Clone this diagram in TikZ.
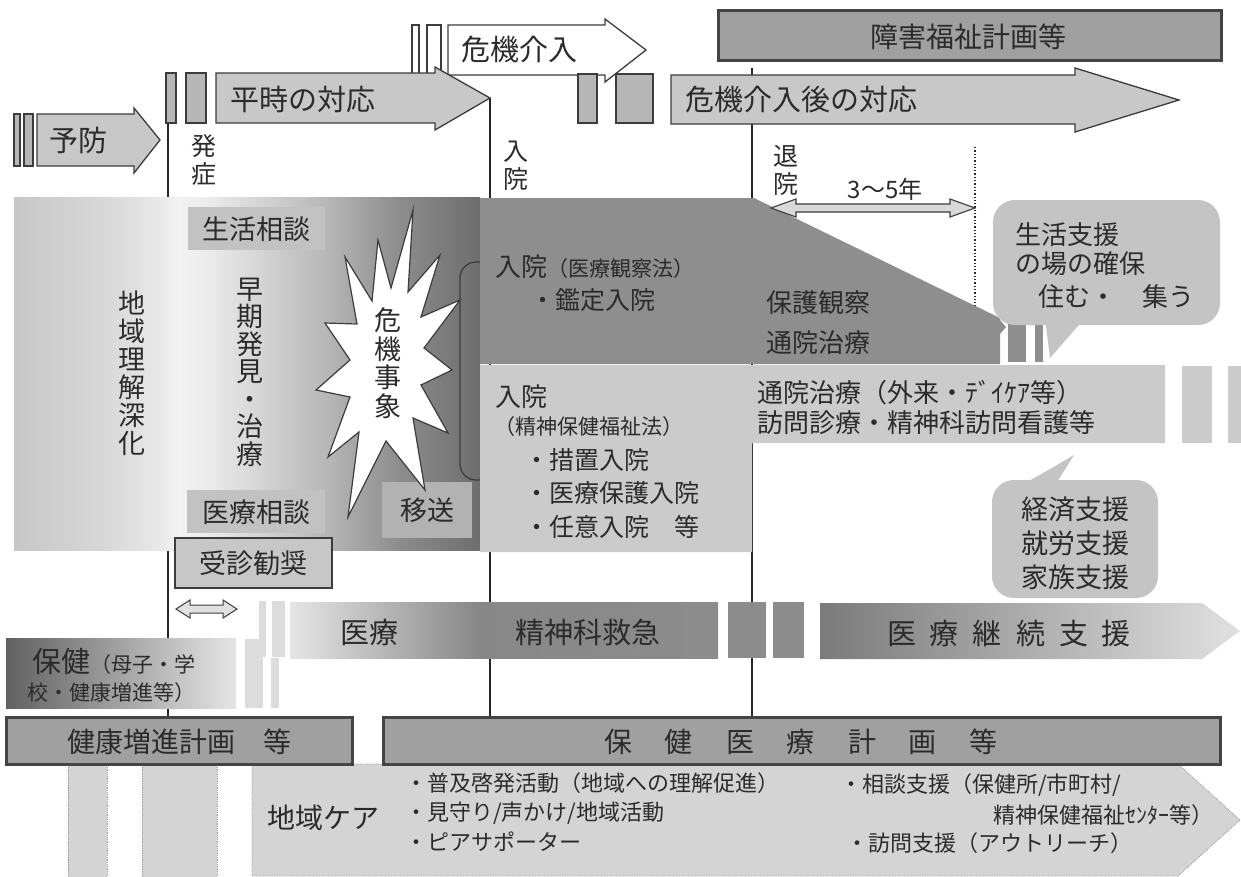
\documentclass[tikz,border=0pt]{standalone}
\usepackage{fontspec}
\setmainfont{Noto Sans CJK JP}
\newcommand\fsz[1]{\fontsize{#1}{#1}\selectfont}
\definecolor{ink}{HTML}{2B2B2B}
\definecolor{edge}{HTML}{3C3C3C}
\definecolor{arrowfill}{HTML}{C8C8C8}
\definecolor{barfill}{HTML}{B6B6B6}
\definecolor{planfill}{HTML}{A0A0A0}
\definecolor{planedge}{HTML}{444444}
\definecolor{darkreg}{HTML}{8E8E8E}
\definecolor{lightreg}{HTML}{CBCBCB}
\definecolor{bubblefill}{HTML}{C4C4C4}
\definecolor{carefill}{HTML}{D4D4D4}
\definecolor{tagfill}{HTML}{C2C2C2}
\definecolor{thinbar}{HTML}{DCDCDC}
\pgfdeclarehorizontalshading{bandshade}{100bp}{rgb(0bp)=(0.78,0.78,0.78); rgb(25bp)=(0.78,0.78,0.78); rgb(34.2bp)=(0.84,0.84,0.84); rgb(39.6bp)=(0.9,0.9,0.9); rgb(42.8bp)=(0.95,0.95,0.95); rgb(46bp)=(0.92,0.92,0.92); rgb(58.4bp)=(0.72,0.72,0.72); rgb(66.4bp)=(0.55,0.55,0.55); rgb(75bp)=(0.43,0.43,0.43); rgb(100bp)=(0.43,0.43,0.43)}
\pgfdeclarehorizontalshading{medshade}{100bp}{rgb(0bp)=(0.9,0.9,0.9); rgb(25bp)=(0.9,0.9,0.9); rgb(47bp)=(0.53,0.53,0.53); rgb(75bp)=(0.55,0.55,0.55); rgb(100bp)=(0.55,0.55,0.55)}
\begin{document}
\begin{tikzpicture}[x=1pt,y=-1pt,
  bigarrow/.style={fill=arrowfill, draw=edge, line width=1.3pt, line join=miter},
  barbox/.style={fill=barfill, draw=edge, line width=1.1pt},
  whitebar/.style={fill=white, draw=edge, line width=1.1pt},
  vline/.style={draw=black!85, line width=1.6pt},
  planbox/.style={fill=planfill, draw=planedge, line width=3pt},
  txt/.style={text=ink, inner sep=0pt},
  vtxt/.style={text=ink, inner sep=0pt, align=center},
  careedge/.style={fill=carefill, draw=black!40, densely dotted, line width=0.8pt}]
\useasboundingbox (0,0) rectangle (1241,876);
\fill[white] (0,0) rectangle (1241,876);

% ---- vertical time lines
\coordinate (onsetT) at (168,123);
\coordinate (onsetB) at (168,717);
\coordinate (admT) at (490,98);
\coordinate (admB) at (490,717);
\coordinate (dischT) at (752,68);
\coordinate (dischB) at (752,717);
\coordinate (yrsT) at (975,147);
\coordinate (yrsB) at (975,320);
\draw[vline] (onsetT) -- (onsetB);
\draw[vline] (admT) -- (admB);
\draw[vline] (dischT) -- (dischB);
\draw[black!85, line width=1.3pt, dotted] (yrsT) -- (yrsB);

% ---- top arrows
\draw[barbox] (14,114) rectangle (20,166);
\draw[barbox] (24,114) rectangle (33,166);
\draw[bigarrow] (37,114) -- (134,114) -- (134,108) -- (160,140) -- (134,173) -- (134,166) -- (37,166) -- cycle;
\node[txt, font=\fsz{29}] (yobo) at (78,140) {予防};

\draw[whitebar] (412,25) rectangle (419,75);
\draw[whitebar] (427,25) rectangle (441,75);
\draw[bigarrow, fill=white] (448,25) -- (605,25) -- (605,19) -- (646,50) -- (605,82) -- (605,75) -- (448,75) -- cycle;
\node[txt, font=\fsz{29}] (kiki) at (519,50) {危機介入};

\draw[barbox] (166,73) rectangle (176,123);
\draw[barbox] (186,73) rectangle (206,123);
\draw[bigarrow] (216,73) -- (435,73) -- (435,67) -- (490,98) -- (435,130) -- (435,123) -- (216,123) -- cycle;
\node[txt, font=\fsz{29}] (heiji) at (303,99) {平時の対応};

\draw[barbox] (578,74) rectangle (597,123);
\draw[barbox] (616,74) rectangle (653,123);
\draw[bigarrow] (671,75) -- (1075,75) -- (1075,68) -- (1179,100) -- (1075,132) -- (1075,124) -- (671,124) -- cycle;
\node[txt, font=\fsz{29}] (kikigo) at (801,100) {危機介入後の対応};

\draw[planbox] (718,10) rectangle (1221,60);
\node[txt, font=\fsz{28}] (shogai) at (968,37) {障害福祉計画等};

\node[vtxt, font={\fontsize{25}{28}\selectfont}] (onset) at (204,160) {発\\症};
\node[vtxt, font={\fontsize{25}{28}\selectfont}] (adm) at (516,166) {入\\院};
\node[vtxt, font={\fontsize{25}{28}\selectfont}] (disch) at (786,170) {退\\院};

% ---- main band
\shade[shading=bandshade] (14,197) rectangle (480,550);
\fill[darkreg] (480,198) -- (754,198) -- (1000,318) -- (1000,364) -- (480,364) -- cycle;
\fill[darkreg] (1000,320) -- (1006,327) -- (1000,334) -- cycle;
\fill[darkreg] (1008,315) rectangle (1026,362);
\fill[darkreg] (1035,315) rectangle (1043,362);
\fill[lightreg] (480,365) -- (1165,365) -- (1165,443) -- (752,443) -- (752,552) -- (480,552) -- cycle;
\fill[lightreg] (1182,366) rectangle (1212,443);
\fill[lightreg] (1228,366) rectangle (1241,443);

\fill[tagfill] (188,207) rectangle (325,250);
\fill[tagfill] (187,490) rectangle (325,533);
\fill[fill=black!30] (382,482) rectangle (472,538);
\node[txt, font=\fsz{27}] (seikatsu) at (256,229) {生活相談};
\node[txt, font=\fsz{27}] (iryosodan) at (256,512) {医療相談};
\node[txt, font=\fsz{27}] (iso) at (427,510) {移送};

\draw[fill=white, draw=edge, line width=1.2pt] (413,210) -- (408,292) -- (440,255) -- (421,317) -- (460,300) -- (424,348) -- (452,370) -- (421,385) -- (448,433) -- (413,418) -- (425,490) -- (386,441) -- (348,517) -- (359,432) -- (328,457) -- (350,397) -- (316,390) -- (350,360) -- (325,323) -- (357,324) -- (345,257) -- (372,301) -- (378,240) -- (391,288) -- cycle;
\node[vtxt, font={\fontsize{27}{28.5}\selectfont}] (kikijisho) at (388,363) {危\\機\\事\\象};
\draw[edge, line width=1.3pt, rounded corners=16pt] (480,262) -- (460,262) -- (460,480) -- (480,480);

\draw[fill=black!22, draw=edge, line width=1.2pt] (175,538) rectangle (332,588);
\node[txt, font=\fsz{27}] (jushin) at (253,563) {受診勧奨};

\node[vtxt, font={\fontsize{27}{28}\selectfont}] (chiiki) at (132,373) {地\\域\\理\\解\\深\\化};
\node[vtxt, font={\fontsize{27}{27.5}\selectfont}] (soki) at (250,372) {早\\期\\発\\見\\・\\治\\療};

\node[txt, anchor=west] (kansatsu) at (495,267) {\fsz{26}入院\fsz{21}（医療観察法）};
\node[txt, anchor=west, font=\fsz{25}] (kantei) at (530,300) {・鑑定入院};
\node[txt, anchor=west, font=\fsz{26}] (hogo) at (766,303) {保護観察};
\node[txt, anchor=west, font=\fsz{26}] (tsuin) at (766,343) {通院治療};
\node[txt, anchor=west, font=\fsz{26}] (nyuin) at (495,397) {入院};
\node[txt, anchor=west, font=\fsz{21}] (seiho) at (494,427) {（精神保健福祉法）};
\node[txt, anchor=west, font=\fsz{25}] (sochi) at (524,460) {・措置入院};
\node[txt, anchor=west, font=\fsz{25}] (iryohogo) at (524,493) {・医療保護入院};
\node[txt, anchor=west, font=\fsz{25}] (nini) at (524,527) {・任意入院　等};
\node[txt, anchor=west, font=\fsz{26}] (gairai) at (757,393) {通院治療（外来・ﾃﾞｲｹｱ等）};
\node[txt, anchor=west, font=\fsz{26}] (homon) at (757,423) {訪問診療・精神科訪問看護等};

% ---- 3-5 years arrow
\draw[fill=black!15, draw=edge, line width=1.1pt] (771,208) -- (796,199) -- (796,204) -- (950,204) -- (950,199) -- (975,208) -- (950,217) -- (950,212) -- (796,212) -- (796,217) -- cycle;
\node[txt, font=\fsz{24}] (years) at (885,189) {3～5年};

% ---- bubbles
\fill[bubblefill, rounded corners=22pt] (993,200) rectangle (1220,325);
\fill[bubblefill] (1045,318) -- (1050,358) -- (1085,318) -- cycle;
\node[txt, anchor=west, font=\fsz{26}] (b1a) at (1015,235) {生活支援};
\node[txt, anchor=west, font=\fsz{26}] (b1b) at (1015,264) {の場の確保};
\node[txt, anchor=west, font=\fsz{26}] (b1c) at (1038,297) {住む・　集う};

\fill[bubblefill, rounded corners=22pt] (992,480) rectangle (1158,598);
\fill[bubblefill] (1012,490) .. controls (1040,475) .. (1074,455) -- (1052,490) -- cycle;
\node[txt, font=\fsz{27}] (b2a) at (1075,509) {経済支援};
\node[txt, font=\fsz{27}] (b2b) at (1075,543) {就労支援};
\node[txt, font=\fsz{27}] (b2c) at (1075,577) {家族支援};

% ---- lower section
\draw[fill=black!12, draw=edge, line width=1pt] (176,609) -- (190,600) -- (190,605) -- (223,605) -- (223,600) -- (237,609) -- (223,618) -- (223,613) -- (190,613) -- (190,618) -- cycle;
\fill[thinbar] (259,601) rectangle (266,657);
\fill[thinbar] (272,601) rectangle (285,657);
\fill[thinbar] (245,639) rectangle (263,708);
\fill[thinbar] (271,658) rectangle (279,708);

\shade[left color=black!62, right color=black!10] (6,638) rectangle (236,708);
\node[txt, anchor=west] (hoken) at (32,662) {\fsz{29}保健\fsz{21}（母子・学};
\node[txt, anchor=west, font=\fsz{21}] (hoken2) at (27,693) {校・健康増進等）};

\shade[shading=medshade] (290,602) rectangle (718,658);
\fill[black!45] (728,602) rectangle (766,658);
\fill[black!45] (773,602) rectangle (804,658);
\node[txt, font=\fsz{29}] (iryo) at (369,632) {医療};
\node[txt, font=\fsz{29}] (kyukyu) at (588,632) {精神科救急};
\shade[left color=black!52, right color=black!12] (820,603) -- (1202,603) -- (1240,631) -- (1202,659) -- (820,659) -- cycle;
\node[txt, font=\fsz{29}] (keizoku) at (1009,633) {医\hspace{14pt}療\hspace{14pt}継\hspace{14pt}続\hspace{14pt}支\hspace{14pt}援};

% ---- community care
\draw[careedge] (252,764) -- (1178,764) -- (1240,820) -- (1178,876) -- (252,876) -- cycle;
\draw[careedge] (68,765) rectangle (107,880);
\draw[careedge] (142,765) rectangle (217,880);

\draw[planbox] (6,717) rectangle (352,764);
\node[txt, font=\fsz{28}] (kenko) at (179,742) {健康増進計画　等};
\draw[planbox] (383,717) rectangle (1220,764);
\node[txt, font=\fsz{28}] (hokeniryo) at (801,742) {保\hspace{33pt}健\hspace{33pt}医\hspace{33pt}療\hspace{33pt}計\hspace{33pt}画\hspace{33pt}等};

\node[txt, font=\fsz{28}] (care) at (323,818) {地域ケア};
\node[txt, anchor=west, font=\fsz{22}] (c1) at (405,783) {・普及啓発活動（地域への理解促進）};
\node[txt, anchor=west, font=\fsz{22}] (c2) at (405,813) {・見守り/声かけ/地域活動};
\node[txt, anchor=west, font=\fsz{22}] (c3) at (405,842) {・ピアサポーター};
\node[txt, anchor=west, font=\fsz{22}] (c4) at (840,785) {・相談支援（保健所/市町村/};
\node[txt, anchor=east, font=\fsz{22}] (c5) at (1214,815) {精神保健福祉ｾﾝﾀｰ等）};
\node[txt, anchor=west, font=\fsz{22}] (c6) at (846,843) {・訪問支援（アウトリーチ）};
\end{tikzpicture}
\end{document}
